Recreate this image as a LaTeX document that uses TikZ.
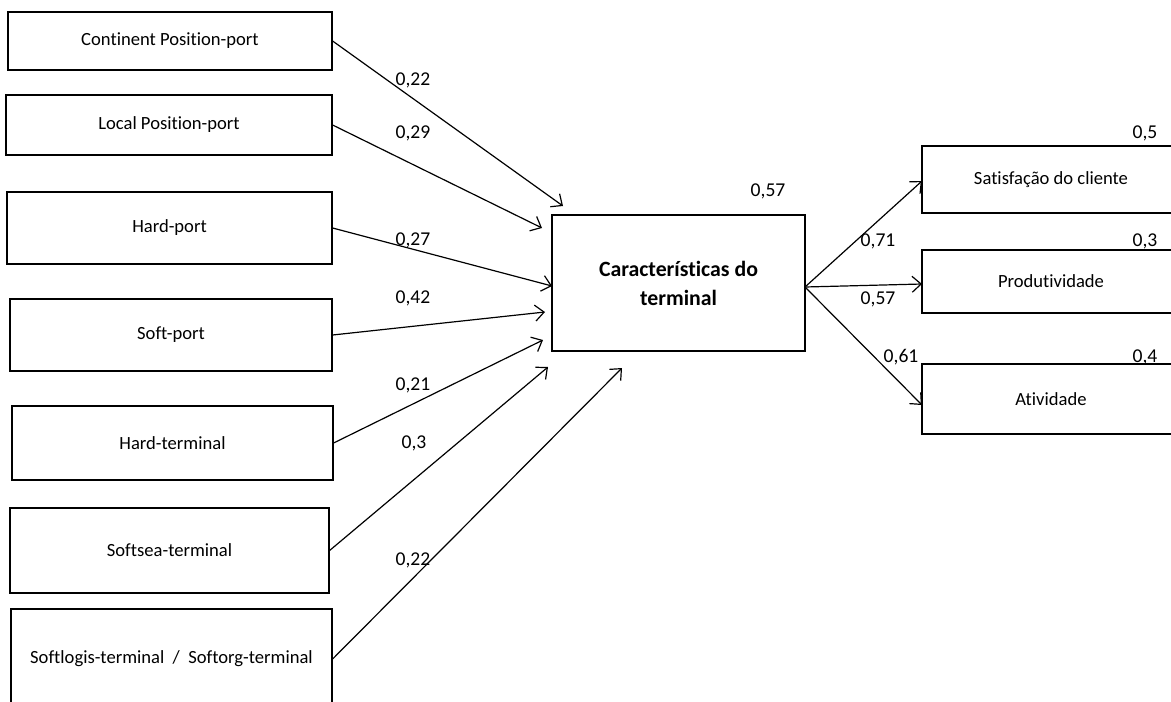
\documentclass[tikz,border=0pt]{standalone}
\usepackage{fontspec}
\setmainfont{Carlito}[RawFeature={-liga;-dlig;-clig}]
\usetikzlibrary{arrows.meta}
\begin{document}
\begin{tikzpicture}[x=0.5pt,y=-0.5pt,
  box/.style={draw,line width=0.6pt,inner sep=0pt,font=\fontsize{9.3pt}{11pt}\selectfont},
  core/.style={box,font=\bfseries\fontsize{10.9pt}{14.5pt}\selectfont,align=center},
  coef/.style={inner sep=0pt,font=\fontsize{9.8pt}{11pt}\selectfont},
  path/.style={line width=0.6pt,-{Straight Barb[length=4.5pt,width=8pt,line width=0.6pt]}}]
\useasboundingbox (0,0) rectangle (1171,701);
\clip (0,0) rectangle (1171,701);

% exogenous constructs
\node[box,minimum width=162pt,minimum height=29pt] (b1) at (170,41) {Continent Position-port};
\node[box,minimum width=163pt,minimum height=30pt] (b2) at (169,125) {Local Position-port};
\node[box,minimum width=162.5pt,minimum height=36pt] (b3) at (169.5,228) {Hard-port};
\node[box,minimum width=161pt,minimum height=36pt] (b4) at (171,335) {Soft-port};
\node[box,minimum width=160.5pt,minimum height=37pt] (b5) at (172.5,443) {Hard-terminal};
\node[box,minimum width=159.5pt,minimum height=42.5pt] (b6) at (169.5,550.5) {Softsea-terminal};
\node[box,minimum width=160.5pt,minimum height=50pt] (b7) at (171.5,659) {Softlogis-terminal \ / \ Softorg-terminal};

% central construct
\node[core,minimum width=126.5pt,minimum height=68pt] (c) at (678.5,283) {Características do\\terminal};

% outcome constructs
\node[box,minimum width=129pt,minimum height=33.5pt] (r1) at (1051,179.5) {Satisfação do cliente};
\node[box,minimum width=129pt,minimum height=31.5pt] (r2) at (1051,281.5) {Produtividade};
\node[box,minimum width=129pt,minimum height=35pt] (r3) at (1051,399) {Atividade};

% arrow end points
\coordinate (t1) at (563,206);
\coordinate (t2) at (542,228);
\coordinate (t3) at (552,286);
\coordinate (t4) at (545,312);
\coordinate (t5) at (543,340);
\coordinate (t6) at (548,367);
\coordinate (t7) at (622,368);
\coordinate (src) at (805,287);
\coordinate (e1) at (922,181);
\coordinate (e2) at (922,284);
\coordinate (e3) at (922,405);

\draw[path] (b1.east) -- (t1);
\draw[path] (b2.east) -- (t2);
\draw[path] (b3.east) -- (t3);
\draw[path] (b4.east) -- (t4);
\draw[path] (b5.east) -- (t5);
\draw[path] (b6.east) -- (t6);
\draw[path] (b7.east) -- (t7);
\draw[path] (src) -- (e1);
\draw[path] (src) -- (e2);
\draw[path] (src) -- (e3);

% path coefficients
\node[coef] (l1) at (413,80) {0,22};
\node[coef] (l2) at (413,133) {0,29};
\node[coef] (l3) at (413,240) {0,27};
\node[coef] (l4) at (413,298) {0,42};
\node[coef] (l5) at (413,385) {0,21};
\node[coef] (l6) at (414,443) {0,3};
\node[coef] (l7) at (413,560) {0,22};
\node[coef] (l8) at (878,241) {0,71};
\node[coef] (l9) at (878,299) {0,57};
\node[coef] (l10) at (901,357) {0,61};

% explained variance
\node[coef] (rc) at (768,191) {0,57};
\node[coef] (rr1) at (1145,133) {0,5};
\node[coef] (rr2) at (1145,241) {0,3};
\node[coef] (rr3) at (1145,357) {0,4};
\end{tikzpicture}
\end{document}
